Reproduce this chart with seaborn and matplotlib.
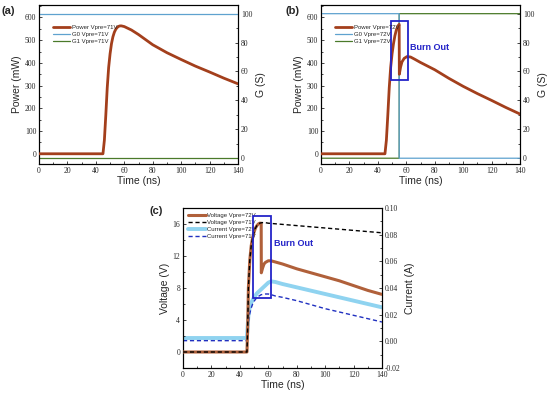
import matplotlib
matplotlib.use("Agg")
import matplotlib.pyplot as plt
import seaborn as sns
import pandas as pd
from matplotlib.patches import Rectangle
from matplotlib.ticker import MultipleLocator

# ---------------- data ----------------
# (a) Power Vpre=71V
ta = [0, 45, 46, 47, 48, 49, 50, 51, 52, 53, 54, 55, 56, 57, 58, 60, 65, 70, 80, 90, 100, 110, 120, 130, 140]
pa = [0, 0, 60, 170, 290, 380, 440, 485, 515, 535, 548, 556, 561, 563, 563, 560, 545, 525, 480, 445, 415, 386, 360, 333, 308]
tg_a = [0, 140]
g0_a = [100, 100]
g1_a = [0, 0]

# (b) Power Vpre=72V
tb = [0, 45, 46, 47, 48, 49, 50, 51, 52, 53, 54, 55, 55.1, 56, 57, 58.5, 60.5, 63, 66, 70, 80, 90, 100, 110, 120, 130, 140]
pb = [0, 0, 60, 170, 290, 380, 440, 485, 520, 545, 560, 570, 350, 382, 405, 420, 428, 426, 416, 402, 370, 332, 297, 265, 235, 204, 175]
tg_b = [0, 55, 55.01, 140]
g0_b = [100, 100, 0, 0]
g1_b = [0, 0, 100, 100]

# (c) Voltage / Current
tv72 = [0, 45, 45.5, 46, 47, 48, 49, 50, 51, 52, 53, 54, 55, 55.1, 56, 57, 58, 60, 62, 70, 80, 90, 100, 110, 120, 130, 140]
v72 = [0, 0, 3, 8, 11.5, 13.3, 14.3, 15, 15.5, 15.8, 16, 16.1, 16.1, 9.9, 10.5, 11, 11.2, 11.4, 11.4, 11.0, 10.4, 9.9, 9.4, 8.9, 8.3, 7.7, 7.2]
tv71 = [0, 45, 45.5, 46, 47, 48, 49, 50, 51, 52, 53, 54, 55, 57, 60, 80, 100, 120, 140]
v71 = [0, 0, 3, 8, 11.5, 13.3, 14.3, 15, 15.5, 15.8, 16, 16.1, 16.15, 16.2, 16.1, 15.8, 15.5, 15.2, 14.9]
tc = [0, 45, 45.5, 46, 46.5, 47, 48, 49, 50, 52, 55, 58, 60, 62, 65, 70, 80, 100, 120, 140]
c72 = [0.0025, 0.0025, 0.012, 0.019, 0.023, 0.026, 0.029, 0.031, 0.033, 0.036, 0.039, 0.042, 0.044, 0.045, 0.0445, 0.043, 0.0405, 0.0355, 0.0305, 0.0255]
c71 = [0.0005, 0.0005, 0.008, 0.014, 0.018, 0.021, 0.025, 0.028, 0.030, 0.033, 0.035, 0.0355, 0.0355, 0.035, 0.034, 0.033, 0.0305, 0.0245, 0.0195, 0.0145]

xticks = [0, 20, 40, 60, 80, 100, 120, 140]

# ---------------- style ----------------
sns.set_style("ticks")
plt.rcParams['font.family'] = ['Liberation Sans', 'DejaVu Sans']
plt.rcParams['axes.linewidth'] = 0.8

BROWN = '#a33f1c'
BROWN_C = '#b0603a'
G0C = '#5fa2cf'
G1C = '#4a7a2a'
LBLUE = '#8fd3f0'
BOXC = '#2424c8'

fig = plt.figure(figsize=(5.5, 3.97), dpi=100)
W, H = 550, 397


def add_ax(l, r, t, b):
    return fig.add_axes([l / W, 1 - b / H, (r - l) / W, (b - t) / H])


def style_axis(ax):
    ax.tick_params(axis='both', which='both', direction='in', labelsize=5.5,
                   labelfontfamily='Liberation Serif', length=2.5, width=0.6,
                   top=False, pad=2)
    ax.tick_params(which='minor', length=1.5)
    for s in ax.spines.values():
        s.set_visible(True)
        s.set_linewidth(0.8)
        s.set_color('black')


def line(ax, t, y, **kw):
    df = pd.DataFrame({'t': t, 'y': y})
    sns.lineplot(data=df, x='t', y='y', ax=ax, estimator=None, sort=False, **kw)
    if ax.get_legend() is not None:
        ax.get_legend().remove()


def make_legend(ax, handles, **kw):
    ax.legend(handles=handles, labels=[l.get_label() for l in handles], loc='upper left',
              fontsize=4.3, frameon=False, handlelength=3, handletextpad=0.3, **kw)


# ---------------- (a) ----------------
axa = add_ax(39, 238, 5, 164)
axa2 = axa.twinx()
line(axa, ta, pa, color=BROWN, lw=2.0, label='Power Vpre=71V', zorder=3)
line(axa2, tg_a, g0_a, color=G0C, lw=0.9, label='G0 Vpre=71V', zorder=3)
line(axa2, tg_a, g1_a, color=G1C, lw=0.9, label='G1 Vpre=71V', zorder=2)
axa.set_zorder(axa2.get_zorder() + 1)
axa.patch.set_visible(False)
axa.set_xlim(0, 140)
axa.set_ylim(-45, 655)
axa2.set_ylim(-4, 106)
axa.set_xticks(xticks)
axa.set_yticks([0, 100, 200, 300, 400, 500, 600])
axa2.set_yticks([0, 20, 40, 60, 80, 100])
axa.xaxis.set_minor_locator(MultipleLocator(10))
axa.yaxis.set_minor_locator(MultipleLocator(50))
axa2.yaxis.set_minor_locator(MultipleLocator(10))
axa.set_xlabel('Time (ns)', fontsize=7.5, labelpad=1)
axa.set_ylabel('Power (mW)', fontsize=7.5, labelpad=2)
axa2.set_ylabel('G (S)', fontsize=7.5, labelpad=3)
style_axis(axa)
style_axis(axa2)
make_legend(axa, axa.get_lines() + axa2.get_lines(), bbox_to_anchor=(0.05, 0.9),
            labelspacing=0.35, borderpad=0.1)
fig.text(2 / W, 1 - 11 / H, '(a)', fontsize=8, fontweight='bold', va='center')

# ---------------- (b) ----------------
axb = add_ax(321, 520, 5, 164)
axb2 = axb.twinx()
line(axb, tb, pb, color=BROWN, lw=2.0, label='Power Vpre=72V', zorder=3)
line(axb2, tg_b, g0_b, color=G0C, lw=0.9, label='G0 Vpre=72V', zorder=3)
line(axb2, tg_b, g1_b, color=G1C, lw=0.9, label='G1 Vpre=72V', zorder=2)
axb.set_zorder(axb2.get_zorder() + 1)
axb.patch.set_visible(False)
axb.set_xlim(0, 140)
axb.set_ylim(-45, 655)
axb2.set_ylim(-4, 106)
axb.set_xticks(xticks)
axb.set_yticks([0, 100, 200, 300, 400, 500, 600])
axb2.set_yticks([0, 20, 40, 60, 80, 100])
axb.xaxis.set_minor_locator(MultipleLocator(10))
axb.yaxis.set_minor_locator(MultipleLocator(50))
axb2.yaxis.set_minor_locator(MultipleLocator(10))
axb.set_xlabel('Time (ns)', fontsize=7.5, labelpad=1)
axb.set_ylabel('Power (mW)', fontsize=7.5, labelpad=2)
axb2.set_ylabel('G (S)', fontsize=7.5, labelpad=3)
style_axis(axb)
style_axis(axb2)
make_legend(axb, axb.get_lines() + axb2.get_lines(), bbox_to_anchor=(0.05, 0.9),
            labelspacing=0.35, borderpad=0.1)
axb.add_patch(Rectangle((49.5, 324), 11.7, 261, fill=False, ec=BOXC, lw=1.3, zorder=5))
axb.text(62.4, 469, 'Burn Out', color=BOXC, fontsize=6.5, fontweight='bold', va='center', ha='left')
fig.text(286 / W, 1 - 11 / H, '(b)', fontsize=8, fontweight='bold', va='center')

# ---------------- (c) ----------------
axc = add_ax(183, 382, 208, 368)
axc2 = axc.twinx()
line(axc, tv72, v72, color=BROWN_C, lw=2.2, label='Voltage Vpre=72V', zorder=3)
line(axc, tv71, v71, color='black', lw=1.0, ls=(0, (3, 2)), label='Voltage Vpre=71V', zorder=4)
line(axc2, tc, c72, color=LBLUE, lw=2.8, label='Current Vpre=72V', zorder=2)
line(axc2, tc, c71, color='#2030c0', lw=1.0, ls=(0, (3, 2)), label='Current Vpre=71V', zorder=3)
axc.set_zorder(axc2.get_zorder() + 1)
axc.patch.set_visible(False)
axc.set_xlim(0, 140)
axc.set_ylim(-2, 18)
axc2.set_ylim(-0.02, 0.10)
axc.set_xticks(xticks)
axc.set_yticks([0, 4, 8, 12, 16])
axc2.set_yticks([-0.02, 0.00, 0.02, 0.04, 0.06, 0.08, 0.10])
axc2.set_yticklabels(['-0.02', '0.00', '0.02', '0.04', '0.06', '0.08', '0.10'])
axc.xaxis.set_minor_locator(MultipleLocator(10))
axc.yaxis.set_minor_locator(MultipleLocator(2))
axc2.yaxis.set_minor_locator(MultipleLocator(0.01))
axc.set_xlabel('Time (ns)', fontsize=7.5, labelpad=1)
axc.set_ylabel('Voltage (V)', fontsize=7.5, labelpad=2)
axc2.set_ylabel('Current (A)', fontsize=7.5, labelpad=3)
style_axis(axc)
style_axis(axc2)
make_legend(axc, axc.get_lines() + axc2.get_lines(), bbox_to_anchor=(0.0, 1.0),
            labelspacing=0.3, borderpad=0.3)
axc.add_patch(Rectangle((49.2, 6.7), 12.9, 10.26, fill=False, ec=BOXC, lw=1.3, zorder=6))
axc.text(63.8, 13.5, 'Burn Out', color=BOXC, fontsize=6.5, fontweight='bold', va='center', ha='left')
fig.text(150 / W, 1 - 211 / H, '(c)', fontsize=8, fontweight='bold', va='center')

fig.savefig('out.png', dpi=100)
